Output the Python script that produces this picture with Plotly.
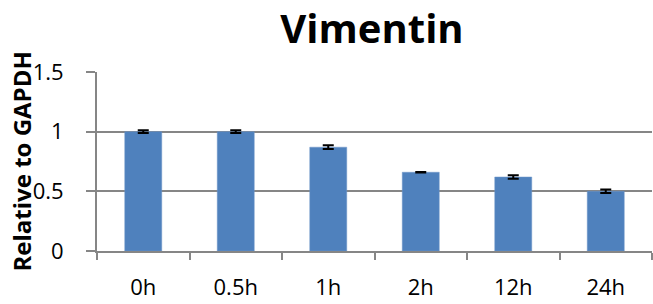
import plotly.graph_objects as go

categories = ["0h", "0.5h", "1h", "2h", "12h", "24h"]
values = [1.0, 1.0, 0.87, 0.66, 0.62, 0.50]
errors = [0.012, 0.012, 0.016, 0.003, 0.014, 0.015]
y_ticks = [0, 0.5, 1, 1.5]
y_ticktext = ["0", "0.5", "1", "1.5"]

GRAY = "#868686"
FONT = "Open Sans"
W, H = 653, 304

fig = go.Figure()
fig.add_trace(go.Bar(
    x=categories, y=values,
    width=0.4,
    marker=dict(color="#4f81bd", line=dict(color="#6f96c8", width=0.5)),
    error_y=dict(type="data", array=errors, visible=True, color="black",
                 thickness=2, width=5.5),
))

fig.update_layout(
    width=W, height=H,
    margin=dict(l=97, r=1, t=72, b=53, autoexpand=False),
    paper_bgcolor="white", plot_bgcolor="white",
    showlegend=False,
    font=dict(family=FONT, color="black", size=22),
    title=dict(text="<b>Vimentin</b>", x=372 / W, xref="container", y=1 - 29 / H,
               yref="container", xanchor="center", yanchor="middle",
               font=dict(family=FONT, size=40, color="black")),
    bargap=0.6,
)
fig.update_xaxes(
    showline=True, linecolor=GRAY, linewidth=2, automargin=False,
    ticks="outside", tickson="boundaries", ticklen=7, tickcolor=GRAY, tickwidth=2,
    tickfont=dict(size=22, family=FONT), ticklabelstandoff=16,
    showgrid=False,
)
fig.update_yaxes(
    range=[0, 1.5], tickvals=y_ticks, ticktext=y_ticktext, automargin=False,
    showline=True, linecolor=GRAY, linewidth=2,
    ticks="outside", ticklen=9, tickcolor=GRAY, tickwidth=2,
    tickfont=dict(size=22, family=FONT), ticklabelstandoff=18,
    showgrid=True, gridcolor=GRAY, gridwidth=2,
    zeroline=False,
)
fig.add_annotation(
    text="<b>Relative to GAPDH</b>", textangle=-90,
    xref="paper", yref="paper", x=(21 - 97) / 555, y=0.5,
    xanchor="center", yanchor="middle", showarrow=False,
    font=dict(family=FONT, size=24, color="black"),
)

fig.write_html(
    "out.html",
    config={"displayModeBar": False},
    post_script="document.body.style.margin='0';document.body.style.overflow='hidden';",
)
